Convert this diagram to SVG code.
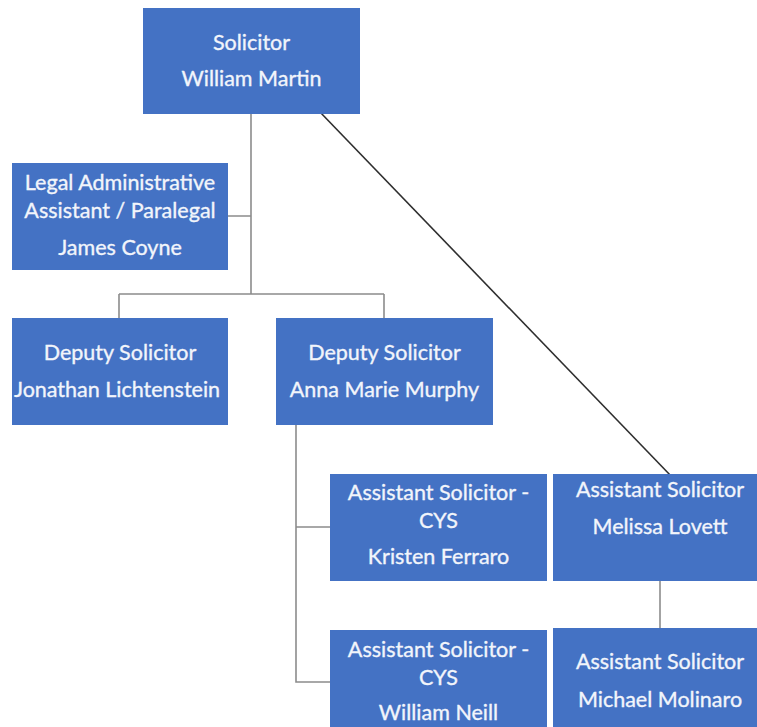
<svg xmlns="http://www.w3.org/2000/svg" width="757" height="727" viewBox="0 0 757 727">
<style>
.box{fill:#4472C4;}
.t{font-family:Lato,"Open Sans","Liberation Sans",sans-serif;font-size:21.5px;fill:#F2F5FB;stroke:#F2F5FB;stroke-width:0.35;text-anchor:middle;}
.c{fill:none;stroke:#8C8C8C;stroke-width:1.6;}
.d{fill:none;stroke:#2E2E2E;stroke-width:1.6;}
</style>
<defs>
<clipPath id="clipJ"><rect x="12" y="318" width="216" height="107"/></clipPath>
</defs>
<rect width="757" height="727" fill="#FFFFFF"/>
<g id="connectors">
<path class="c" d="M251 114 V294 M228 216 H251 M119 294 H384 M119 294 V318 M384 294 V318"/>
<path class="c" d="M296 425 V682 H330 M296 527 H330"/>
<path class="c" d="M660 581 V628"/>
<path class="d" d="M319 111 L672 477"/>
</g>
<g id="solicitor">
<rect class="box" x="143" y="8" width="217" height="106"/>
<text class="t" x="251.5" y="50">Solicitor</text>
<text class="t" x="251.5" y="86">William Martin</text>
</g>
<g id="legal-admin">
<rect class="box" x="12" y="163" width="216" height="107"/>
<text class="t" x="120" y="190">Legal Administrative</text>
<text class="t" x="120" y="218">Assistant / Paralegal</text>
<text class="t" x="120" y="255">James Coyne</text>
</g>
<g id="deputy-lichtenstein">
<rect class="box" x="12" y="318" width="216" height="107"/>
<g clip-path="url(#clipJ)">
<text class="t" x="120" y="360">Deputy Solicitor</text>
<text class="t" x="117" y="397">Jonathan Lichtenstein</text>
</g>
</g>
<g id="deputy-murphy">
<rect class="box" x="276" y="318" width="217" height="107"/>
<text class="t" x="384.5" y="360">Deputy Solicitor</text>
<text class="t" x="384.5" y="397">Anna Marie Murphy</text>
</g>
<g id="assistant-ferraro">
<rect class="box" x="330" y="474" width="217" height="107"/>
<text class="t" x="438.5" y="500">Assistant Solicitor -</text>
<text class="t" x="438.5" y="528">CYS</text>
<text class="t" x="438.5" y="564">Kristen Ferraro</text>
</g>
<g id="assistant-lovett">
<rect class="box" x="553" y="474" width="217" height="107"/>
<text class="t" x="660" y="497">Assistant Solicitor</text>
<text class="t" x="660" y="534">Melissa Lovett</text>
</g>
<g id="assistant-neill">
<rect class="box" x="330" y="630" width="217" height="107"/>
<text class="t" x="438.5" y="657">Assistant Solicitor -</text>
<text class="t" x="438.5" y="685">CYS</text>
<text class="t" x="438.5" y="720">William Neill</text>
</g>
<g id="assistant-molinaro">
<rect class="box" x="553" y="628" width="217" height="107"/>
<text class="t" x="660" y="669">Assistant Solicitor</text>
<text class="t" x="660" y="707">Michael Molinaro</text>
</g>
</svg>
